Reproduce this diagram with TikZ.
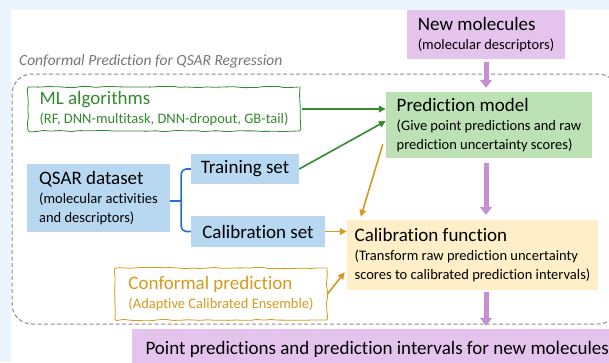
\documentclass[tikz,border=0pt]{standalone}
\usepackage{fontspec}
\setmainfont{Carlito}[Ligatures=NoCommon]
\usetikzlibrary{arrows.meta, calc, decorations.pathmorphing}
\definecolor{bgblue}{RGB}{234,245,253}
\definecolor{molfill}{RGB}{228,196,236}
\definecolor{molarrow}{RGB}{196,144,210}
\definecolor{predfill}{RGB}{187,225,180}
\definecolor{mlgreen}{RGB}{52,138,46}
\definecolor{setfill}{RGB}{183,216,240}
\definecolor{setblue}{RGB}{40,112,208}
\definecolor{calfill}{RGB}{255,239,200}
\definecolor{cporange}{RGB}{214,154,30}
\definecolor{framegray}{RGB}{140,140,140}
\definecolor{titlegray}{RGB}{118,118,118}
\newcommand{\bigtxt}{\fontsize{19}{22}\selectfont}
\newcommand{\smalltxt}{\fontsize{14.5}{19}\selectfont}

\begin{document}
\begin{tikzpicture}[x=1pt, y=-1pt]
\tikzset{
  box/.style={rectangle,align=left,font=\smalltxt,inner sep=4pt},
  mol/.style={box,fill=molfill},
  mdl/.style={box,fill=predfill},
  dset/.style={box,fill=setfill},
  cal/.style={box,fill=calfill},
  sketch/.style={box,fill=white,draw,line width=0.8pt,decorate,decoration={random steps,segment length=7pt,amplitude=0.7pt},rounded corners=1.5pt},
  parr/.style={-{Triangle[width=12pt,length=8pt]},line width=5pt,draw=molarrow},
  gar/.style={-{Triangle[width=6.5pt,length=7pt]},line width=1.6pt,draw=mlgreen},
  oar/.style={-{Triangle[width=6.5pt,length=7pt]},line width=1.6pt,draw=cporange},
  brace/.style={line width=1.6pt,draw=setblue,rounded corners=5pt},
  zone/.style={draw=framegray,line width=1pt,dash pattern=on 4pt off 2.5pt,rounded corners=20pt}
}
% ---- canvas
\fill[bgblue] (0,0) rectangle (609,362);
\useasboundingbox (0,0) rectangle (609,362);
\fill[white] (11,10) rectangle (615,370);
% ---- zone
\draw[zone] (12,74) rectangle (618,324);
\node[font=\fontsize{15.5}{18}\selectfont\itshape,text=titlegray,anchor=west,inner sep=0pt] (ttl) at (19,61) {Conformal Prediction for QSAR Regression};
% ---- boxes
\node[mol,minimum width=158pt,minimum height=49pt] (newmol) at (486,34.5) {{\bigtxt New molecules}\\(molecular descriptors)};
\node[mdl,minimum width=206pt,minimum height=66pt] (pred) at (489,125) {{\bigtxt Prediction model}\\(Give point predictions and raw\\prediction uncertainty scores)};
\node[sketch,draw=mlgreen,text=mlgreen,minimum width=272pt,minimum height=44pt] (mlalg) at (164,109) {{\bigtxt ML algorithms}\\(RF, DNN-multitask, DNN-dropout, GB-tail)};
\node[dset,font=\bigtxt,minimum width=108pt,minimum height=30pt] (train) at (245,169) {Training set};
\node[dset,font=\bigtxt,minimum width=134pt,minimum height=31pt] (calset) at (258,231.5) {Calibration set};
\node[dset,minimum width=143pt,minimum height=68pt] (qsar) at (98.5,198) {{\bigtxt QSAR dataset}\\(molecular activities\\and descriptors)};
\node[cal,minimum width=251pt,minimum height=70pt] (calfun) at (472.5,255) {{\bigtxt Calibration function}\\(Transform raw prediction uncertainty\\scores to calibrated prediction intervals)};
\node[sketch,draw=cporange,text=cporange,minimum width=212pt,minimum height=52pt] (conf) at (221,294) {{\bigtxt Conformal prediction}\\(Adaptive Calibrated Ensemble)};
\node[mol,font=\bigtxt,anchor=west,minimum width=490pt,minimum height=40pt] (point) at (132,349) {Point predictions and prediction intervals for new molecules};
% ---- arrows
\draw[parr,shorten <=3pt,shorten >=4pt] (newmol.south) -- (newmol.south |- pred.north);
\draw[parr,shorten <=5pt,shorten >=5pt] (pred.south -| newmol.south) -- (calfun.north -| newmol.south);
\draw[parr,shorten <=2pt,shorten >=3pt] (calfun.south -| newmol.south) -- (point.north -| newmol.south);
\draw[gar,shorten <=2pt] (mlalg.east) -- (mlalg.east -| pred.west);
\draw[gar] (train.east) -- ($(pred.west)+(0,-4)$);
\draw[oar] ($(pred.south west)+(-3,-14)$) -- ($(calfun.north west)+(14,-3)$);
\draw[oar] (calset.east) -- (calset.east -| calfun.west);
\draw[oar] (conf.east) -- ($(calfun.south west)+(-2,-18)$);
% ---- split of the dataset
\coordinate (split) at ($(qsar.east)+(11,3)$);
\draw[brace] (qsar.east |- split) -- (split);
\draw[brace] (train.west) -| (split) |- (calset.west);
\end{tikzpicture}
\end{document}
